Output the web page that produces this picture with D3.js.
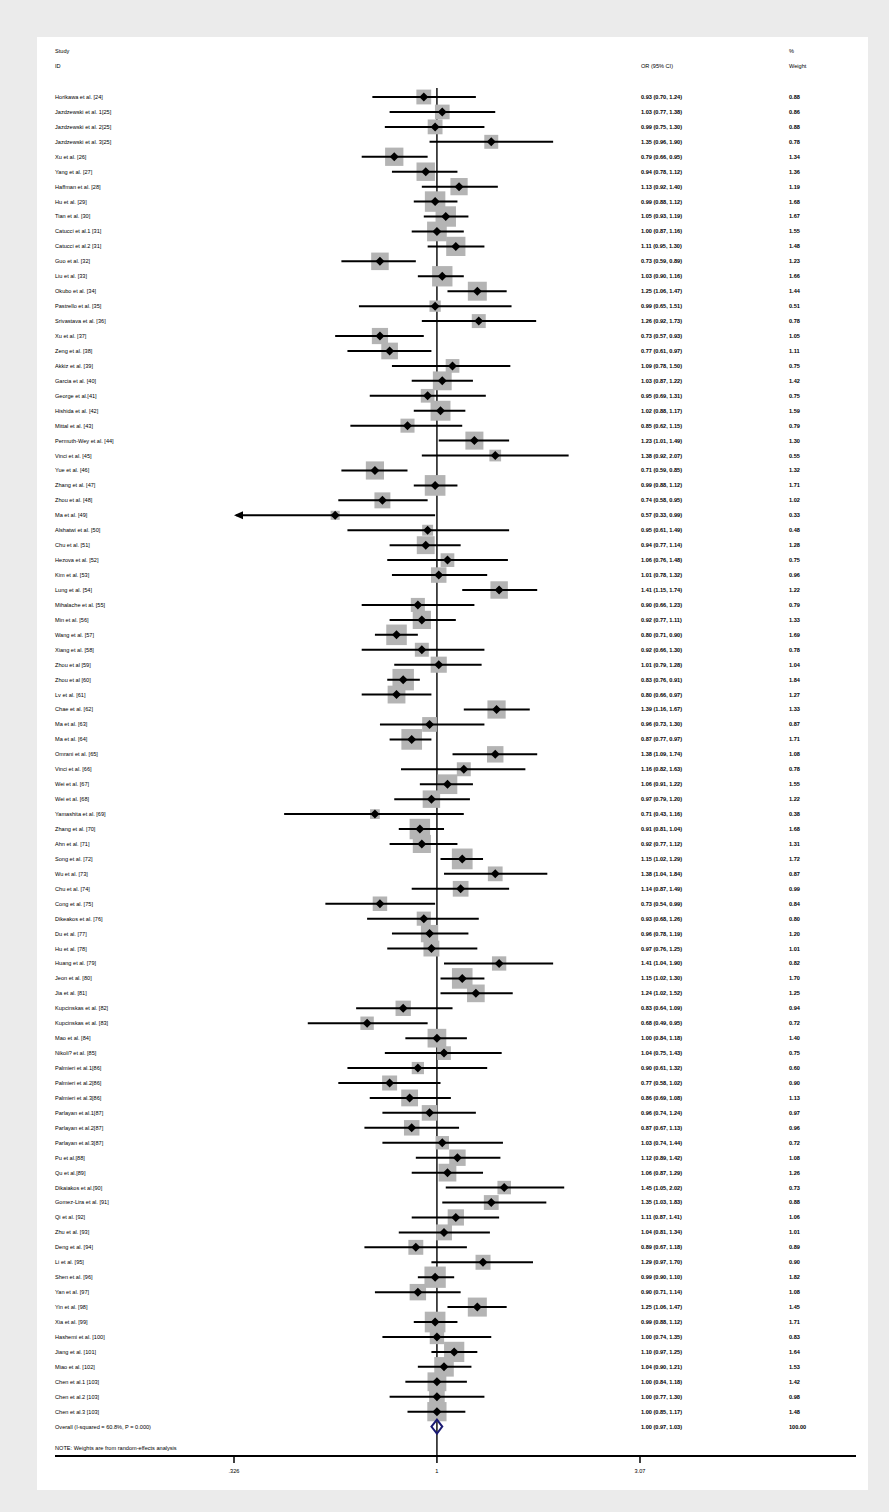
<!DOCTYPE html>
<html>
<head>
<meta charset="utf-8">
<script src="https://cdn.jsdelivr.net/npm/d3@7"></script>
<style>
  html, body { margin: 0; padding: 0; background: #ebebeb; }
  svg { display: block; }
  text { font-family: "Liberation Sans", Arial, sans-serif; fill: #000; }
</style>
</head>
<body>
<script>
// Study labels, in plotting order
const studies = [
  "Horikawa et al. [24]", "Jazdzewski et al. 1[25]", "Jazdzewski et al. 2[25]", "Jazdzewski et al. 3[25]",
  "Xu et al. [26]", "Yang et al. [27]", "Haffman et al. [28]", "Hu et al. [29]", "Tian et al. [30]",
  "Catucci et al.1 [31]", "Catucci et al.2 [31]", "Guo et al. [32]", "Liu et al. [33]", "Okubo et al. [34]",
  "Pastrello et al. [35]", "Srivastava et al. [36]", "Xu et al. [37]", "Zeng et al. [38]", "Akkiz et al. [39]",
  "Garcia et al. [40]", "George et al.[41]", "Hishida et al. [42]", "Mittal et al. [43]",
  "Permuth-Wey et al. [44]", "Vinci et al. [45]", "Yue et al. [46]", "Zhang et al. [47]", "Zhou et al. [48]",
  "Ma et al. [49]", "Alshatwi et al. [50]", "Chu et al. [51]", "Hezova et al. [52]", "Kim et al. [53]",
  "Lung et al. [54]", "Mihalache et al. [55]", "Min et al. [56]", "Wang et al. [57]", "Xiang et al. [58]",
  "Zhou et al [59]", "Zhou et al [60]", "Lv et al. [61]", "Chae et al. [62]", "Ma et al. [63]",
  "Ma et al. [64]", "Omrani et al. [65]", "Vinci et al. [66]", "Wei et al. [67]", "Wei et al. [68]",
  "Yamashita et al. [69]", "Zhang et al. [70]", "Ahn et al. [71]", "Song et al. [72]", "Wu et al. [73]",
  "Chu et al. [74]", "Cong et al. [75]", "Dikeakos et al. [76]", "Du et al. [77]", "Hu et al. [78]",
  "Huang et al. [79]", "Jeon et al. [80]", "Jia et al. [81]", "Kupcinskas et al. [82]",
  "Kupcinskas et al. [83]", "Mao et al. [84]", "Nikoli? et al. [85]", "Palmieri et al.1[86]",
  "Palmieri et al.2[86]", "Palmieri et al.3[86]", "Parlayan et al.1[87]", "Parlayan et al.2[87]",
  "Parlayan et al.3[87]", "Pu et al.[88]", "Qu et al.[89]", "Dikaiakos et al.[90]",
  "Gomez-Lira et al. [91]", "Qi et al. [92]", "Zhu et al. [93]", "Deng et al. [94]", "Li et al. [95]",
  "Shen et al. [96]", "Yan et al. [97]", "Yin et al. [98]", "Xia et al. [99]", "Hashemi et al. [100]",
  "Jiang et al. [101]", "Miao et al. [102]", "Chen et al.1 [103]", "Chen et al.2 [103]", "Chen et al.3 [103]"
];

// Odds ratios with 95% CI bounds
const or = [
  0.93, 1.03, 0.99, 1.35, 0.79, 0.94, 1.13, 0.99, 1.05, 1.00, 1.11, 0.73, 1.03, 1.25, 0.99,
  1.26, 0.73, 0.77, 1.09, 1.03, 0.95, 1.02, 0.85, 1.23, 1.38, 0.71, 0.99, 0.74, 0.57, 0.95,
  0.94, 1.06, 1.01, 1.41, 0.90, 0.92, 0.80, 0.92, 1.01, 0.83, 0.80, 1.39, 0.96, 0.87, 1.38,
  1.16, 1.06, 0.97, 0.71, 0.91, 0.92, 1.15, 1.38, 1.14, 0.73, 0.93, 0.96, 0.97, 1.41, 1.15,
  1.24, 0.83, 0.68, 1.00, 1.04, 0.90, 0.77, 0.86, 0.96, 0.87, 1.03, 1.12, 1.06, 1.45, 1.35,
  1.11, 1.04, 0.89, 1.29, 0.99, 0.90, 1.25, 0.99, 1.00, 1.10, 1.04, 1.00, 1.00, 1.00
];
const ciLow = [
  0.70, 0.77, 0.75, 0.96, 0.66, 0.78, 0.92, 0.88, 0.93, 0.87, 0.95, 0.59, 0.90, 1.06, 0.65,
  0.92, 0.57, 0.61, 0.78, 0.87, 0.69, 0.88, 0.62, 1.01, 0.92, 0.59, 0.88, 0.58, 0.33, 0.61,
  0.77, 0.76, 0.78, 1.15, 0.66, 0.77, 0.71, 0.66, 0.79, 0.76, 0.66, 1.16, 0.73, 0.77, 1.09,
  0.82, 0.91, 0.79, 0.43, 0.81, 0.77, 1.02, 1.04, 0.87, 0.54, 0.68, 0.78, 0.76, 1.04, 1.02,
  1.02, 0.64, 0.49, 0.84, 0.75, 0.61, 0.58, 0.69, 0.74, 0.67, 0.74, 0.89, 0.87, 1.05, 1.03,
  0.87, 0.81, 0.67, 0.97, 0.90, 0.71, 1.06, 0.88, 0.74, 0.97, 0.90, 0.84, 0.77, 0.85
];
const ciHigh = [
  1.24, 1.38, 1.30, 1.90, 0.95, 1.12, 1.40, 1.12, 1.19, 1.16, 1.30, 0.89, 1.16, 1.47, 1.51,
  1.73, 0.93, 0.97, 1.50, 1.22, 1.31, 1.17, 1.15, 1.49, 2.07, 0.85, 1.12, 0.95, 0.99, 1.49,
  1.14, 1.48, 1.32, 1.74, 1.23, 1.11, 0.90, 1.30, 1.28, 0.91, 0.97, 1.67, 1.30, 0.97, 1.74,
  1.63, 1.22, 1.20, 1.16, 1.04, 1.12, 1.29, 1.84, 1.49, 0.99, 1.26, 1.19, 1.25, 1.90, 1.30,
  1.52, 1.09, 0.95, 1.18, 1.43, 1.32, 1.02, 1.08, 1.24, 1.13, 1.44, 1.42, 1.29, 2.02, 1.83,
  1.41, 1.34, 1.18, 1.70, 1.10, 1.14, 1.47, 1.12, 1.35, 1.25, 1.21, 1.18, 1.30, 1.17
];
// Random-effects weights (%)
const weights = [
  0.88, 0.86, 0.88, 0.78, 1.34, 1.36, 1.19, 1.68, 1.67, 1.55, 1.48, 1.23, 1.66, 1.44, 0.51,
  0.78, 1.05, 1.11, 0.75, 1.42, 0.75, 1.59, 0.79, 1.30, 0.55, 1.32, 1.71, 1.02, 0.33, 0.48,
  1.28, 0.75, 0.96, 1.22, 0.79, 1.33, 1.69, 0.78, 1.04, 1.84, 1.27, 1.33, 0.87, 1.71, 1.08,
  0.78, 1.55, 1.22, 0.38, 1.68, 1.31, 1.72, 0.87, 0.99, 0.84, 0.80, 1.20, 1.01, 0.82, 1.70,
  1.25, 0.94, 0.72, 1.40, 0.75, 0.60, 0.90, 1.13, 0.97, 0.96, 0.72, 1.08, 1.26, 0.73, 0.88,
  1.06, 1.01, 0.89, 0.90, 1.82, 1.08, 1.45, 1.71, 0.83, 1.64, 1.53, 1.42, 0.98, 1.48
];

// Pooled estimate
const overallLabel = "Overall  (I-squared = 60.8%, P = 0.000)";
const overall = { or: 1.00, lo: 0.97, hi: 1.03, weight: 100.00 };

// Axis ticks
const tickValues = [0.326, 1, 3.07];
const tickLabels = [".326", "1", "3.07"];

const W = 889, H = 1512;
const fmt = d3.format(".2f");

const svg = d3.select("body").append("svg")
  .attr("width", W).attr("height", H);

// page background and plot region
svg.append("rect").attr("width", W).attr("height", H).attr("fill", "#ebebeb");
svg.append("rect").attr("x", 37).attr("y", 37).attr("width", 831).attr("height", 1453).attr("fill", "#fff");

const x = d3.scaleLog().domain([tickValues[0], tickValues[2]]).range([234, 640]);
const rows = d3.range(studies.length + 1);
const y = d3.scalePoint().domain(rows).range([97, 1426.6]);

const data = studies.map((s, i) => ({
  name: s, or: or[i], lo: ciLow[i], hi: ciHigh[i], w: weights[i], row: i
}));

const fs = 5.6;
const colLabel = 55, colOR = 641, colW = 789;

// headers
const hdr = svg.append("g").attr("font-size", fs);
hdr.append("text").attr("x", colLabel).attr("y", 53).text("Study");
hdr.append("text").attr("x", colLabel).attr("y", 68).text("ID");
hdr.append("text").attr("x", colOR).attr("y", 68).text("OR (95% CI)");
hdr.append("text").attr("x", colW).attr("y", 53).text("%");
hdr.append("text").attr("x", colW).attr("y", 68).text("Weight");

// null line
const axisY = 1456;
svg.append("line")
  .attr("x1", x(1)).attr("x2", x(1))
  .attr("y1", 88).attr("y2", axisY)
  .attr("stroke", "#000").attr("stroke-width", 1.4);

// weight boxes
const boxK = 15.8;
svg.append("g").selectAll("rect").data(data).join("rect")
  .attr("x", d => x(d.or) - boxK * Math.sqrt(d.w) / 2)
  .attr("y", d => y(d.row) - boxK * Math.sqrt(d.w) / 2)
  .attr("width", d => boxK * Math.sqrt(d.w))
  .attr("height", d => boxK * Math.sqrt(d.w))
  .attr("fill", "#b4b4b4");

// confidence intervals
const xMin = x.range()[0];
svg.append("g").selectAll("line").data(data).join("line")
  .attr("x1", d => Math.max(xMin, x(d.lo)))
  .attr("x2", d => x(d.hi))
  .attr("y1", d => y(d.row)).attr("y2", d => y(d.row))
  .attr("stroke", "#000").attr("stroke-width", 2);

// arrowheads where the interval runs to the axis edge
svg.append("g").selectAll("path")
  .data(data.filter(d => x(d.lo) - xMin < 4))
  .join("path")
  .attr("d", d => {
    const yy = y(d.row);
    return `M${xMin},${yy} L${xMin + 9},${yy - 4} L${xMin + 9},${yy + 4} Z`;
  })
  .attr("fill", "#000");

// point estimates
const dm = 4.5;
svg.append("g").selectAll("path").data(data).join("path")
  .attr("d", d => {
    const cx = x(d.or), cy = y(d.row);
    return `M${cx - dm},${cy} L${cx},${cy - dm} L${cx + dm},${cy} L${cx},${cy + dm} Z`;
  })
  .attr("fill", "#000");

// pooled diamond
const oy = y(studies.length);
svg.append("path")
  .attr("d", `M${x(overall.lo)},${oy} L${x(overall.or)},${oy - 7} L${x(overall.hi)},${oy} L${x(overall.or)},${oy + 7} Z`)
  .attr("fill", "none").attr("stroke", "#1a1a73").attr("stroke-width", 2);

// text columns
const tg = svg.append("g").attr("font-size", fs);
tg.selectAll("text.lab").data(data).join("text").attr("class", "lab")
  .attr("x", colLabel).attr("y", d => y(d.row)).attr("dy", "0.35em").text(d => d.name);
tg.selectAll("text.ci").data(data).join("text").attr("class", "ci")
  .attr("x", colOR).attr("y", d => y(d.row)).attr("dy", "0.35em").attr("font-weight", "bold")
  .text(d => `${fmt(d.or)} (${fmt(d.lo)}, ${fmt(d.hi)})`);
tg.selectAll("text.w").data(data).join("text").attr("class", "w")
  .attr("x", colW).attr("y", d => y(d.row)).attr("dy", "0.35em").attr("font-weight", "bold")
  .text(d => fmt(d.w));

tg.append("text").attr("x", colLabel).attr("y", oy).attr("dy", "0.35em").text(overallLabel);
tg.append("text").attr("x", colOR).attr("y", oy).attr("dy", "0.35em").attr("font-weight", "bold")
  .text(`${fmt(overall.or)} (${fmt(overall.lo)}, ${fmt(overall.hi)})`);
tg.append("text").attr("x", colW).attr("y", oy).attr("dy", "0.35em").attr("font-weight", "bold")
  .text(fmt(overall.weight));

tg.append("text").attr("x", colLabel).attr("y", 1448).attr("dy", "0.35em")
  .text("NOTE: Weights are from random-effects analysis");

// x axis
const axisG = svg.append("g").attr("transform", `translate(0,${axisY})`);
axisG.append("line").attr("x1", 55).attr("x2", 856).attr("stroke", "#000").attr("stroke-width", 2);
axisG.selectAll("line.tick").data(tickValues).join("line").attr("class", "tick")
  .attr("x1", d => x(d)).attr("x2", d => x(d)).attr("y1", 0).attr("y2", 7)
  .attr("stroke", "#000").attr("stroke-width", 1.5);
axisG.selectAll("text").data(tickValues).join("text")
  .attr("x", d => x(d)).attr("y", 17).attr("text-anchor", "middle").attr("font-size", fs)
  .text((d, i) => tickLabels[i]);
</script>
</body>
</html>
